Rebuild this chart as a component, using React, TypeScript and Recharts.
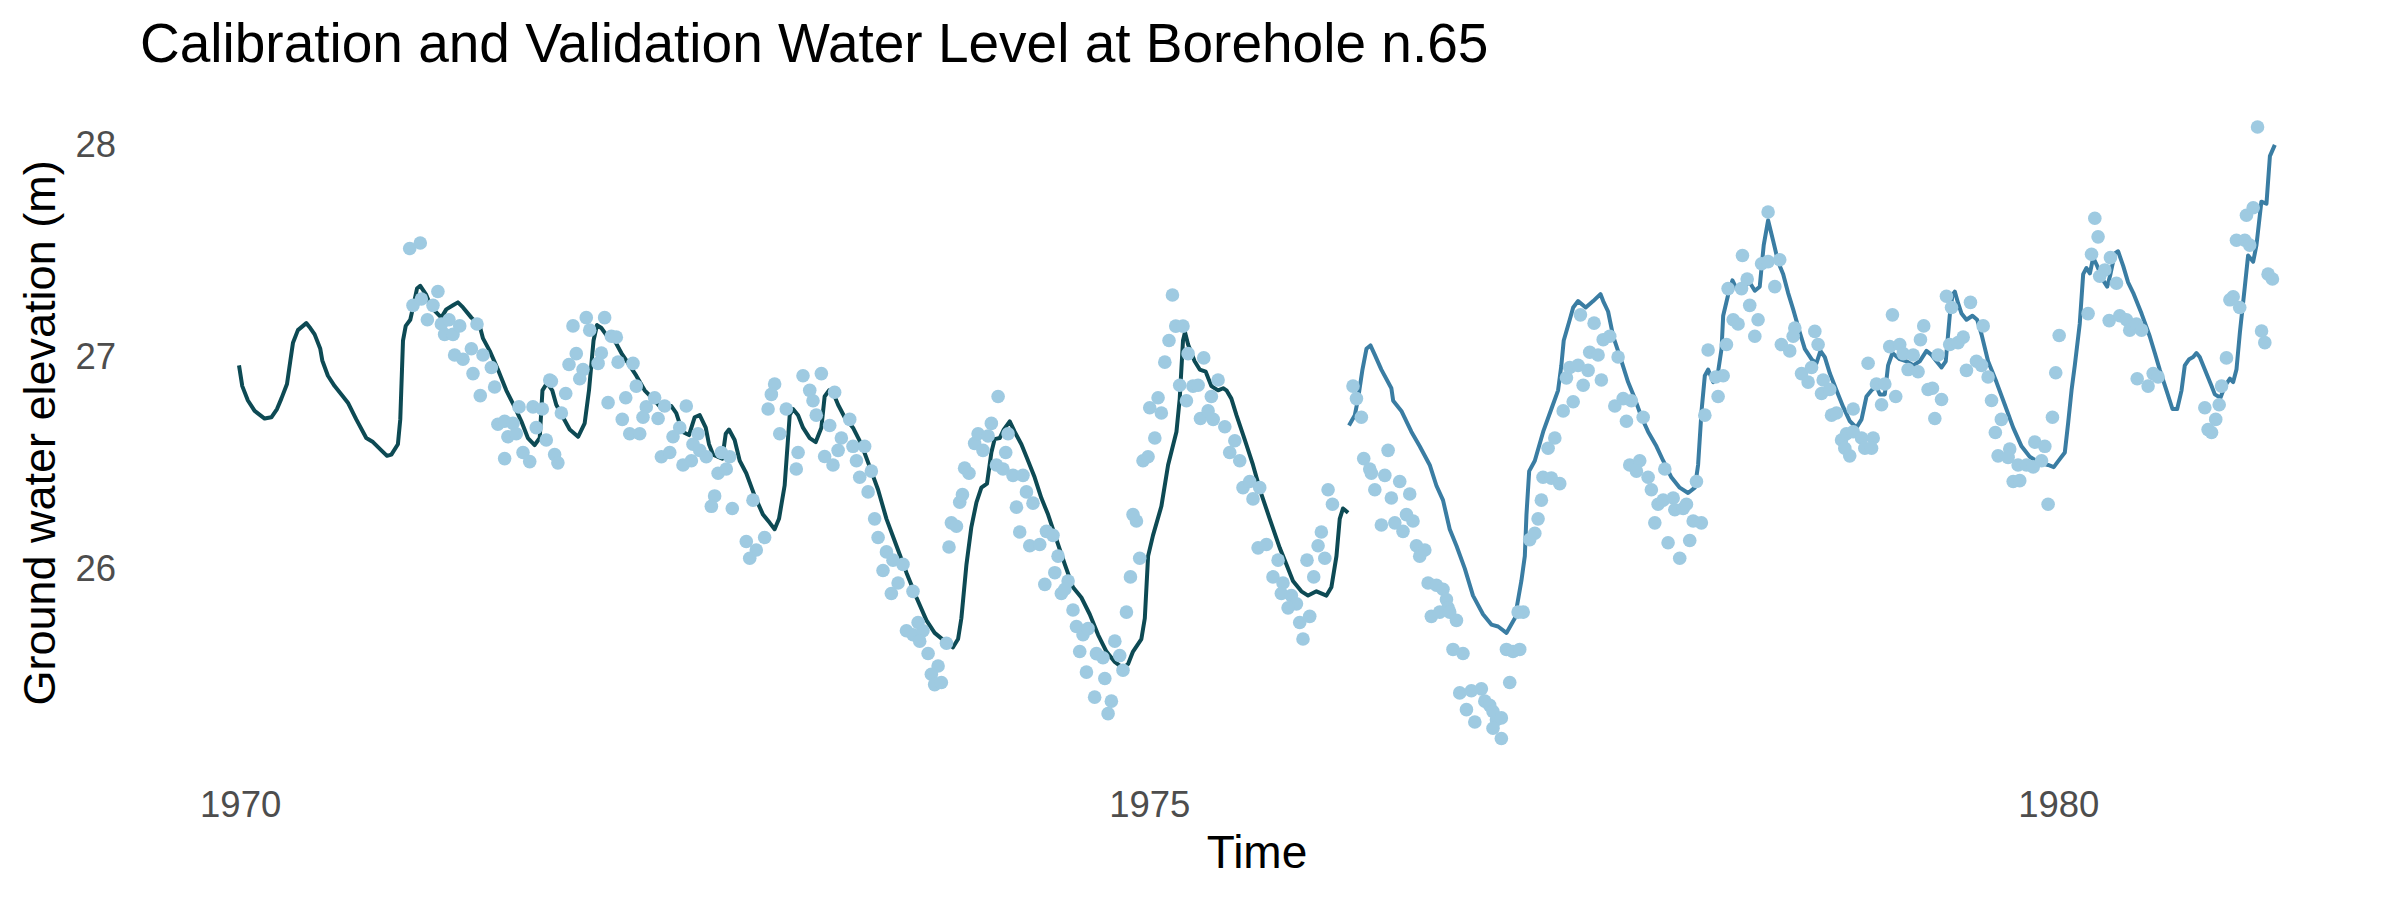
import { ComposedChart, Line, Scatter, XAxis, YAxis } from 'recharts';

// simulated level, calibration period
const calibrationTime = [
  1969.991, 1970.009, 1970.04, 1970.077, 1970.132, 1970.169, 1970.2, 1970.224, 1970.255, 1970.273,
  1970.288, 1970.315, 1970.343, 1970.361, 1970.383, 1970.407, 1970.438, 1970.449, 1970.48, 1970.517,
  1970.563, 1970.59, 1970.636, 1970.691, 1970.728, 1970.774, 1970.805, 1970.829, 1970.865, 1970.878,
  1970.893, 1970.908, 1970.933, 1970.948, 1970.97, 1970.988, 1971.021, 1971.049, 1971.104, 1971.131,
  1971.168, 1971.195, 1971.223, 1971.269, 1971.315, 1971.333, 1971.37, 1971.415, 1971.461, 1971.507,
  1971.544, 1971.58, 1971.617, 1971.645, 1971.66, 1971.685, 1971.714, 1971.736, 1971.773, 1971.81,
  1971.856, 1971.892, 1971.916, 1971.941, 1971.96, 1971.984, 1972.02, 1972.057, 1972.094, 1972.131,
  1972.176, 1972.222, 1972.277, 1972.323, 1972.369, 1972.396, 1972.429, 1972.466, 1972.497, 1972.525,
  1972.558, 1972.576, 1972.598, 1972.649, 1972.668, 1972.686, 1972.717, 1972.745, 1972.781, 1972.827,
  1972.873, 1972.91, 1972.937, 1972.961, 1972.992, 1973.02, 1973.038, 1973.066, 1973.093, 1973.13,
  1973.163, 1973.194, 1973.212, 1973.236, 1973.258, 1973.286, 1973.322, 1973.368, 1973.414, 1973.46,
  1973.506, 1973.552, 1973.607, 1973.662, 1973.717, 1973.772, 1973.817, 1973.872, 1973.918, 1973.946,
  1973.964, 1973.992, 1974.019, 1974.047, 1974.074, 1974.105, 1974.129, 1974.147, 1974.175, 1974.197,
  1974.23, 1974.257, 1974.294, 1974.322, 1974.367, 1974.404, 1974.441, 1974.487, 1974.533, 1974.578,
  1974.624, 1974.67, 1974.716, 1974.762, 1974.808, 1974.853, 1974.881, 1974.908, 1974.954, 1974.973,
  1974.991, 1975.018, 1975.064, 1975.101, 1975.147, 1975.165, 1975.183, 1975.194, 1975.211, 1975.247,
  1975.275, 1975.308, 1975.339, 1975.376, 1975.404, 1975.422, 1975.449, 1975.477, 1975.523, 1975.568,
  1975.587, 1975.614, 1975.66, 1975.715, 1975.752, 1975.788, 1975.834, 1975.871, 1975.917, 1975.972,
  1975.999, 1976.027, 1976.045, 1976.063, 1976.091,
];
const calibrationLevel = [
  26.956, 26.858, 26.79, 26.741, 26.705, 26.711, 26.75, 26.799, 26.868, 26.975,
  27.063, 27.122, 27.142, 27.155, 27.132, 27.102, 27.034, 26.979, 26.907, 26.858,
  26.809, 26.78, 26.701, 26.613, 26.594, 26.555, 26.529, 26.535, 26.584, 26.701,
  27.073, 27.142, 27.171, 27.229, 27.318, 27.331, 27.288, 27.229, 27.181, 27.22,
  27.239, 27.253, 27.229, 27.181, 27.142, 27.083, 27.024, 26.936, 26.838, 26.76,
  26.692, 26.613, 26.58, 26.613, 26.838, 26.872, 26.838, 26.77, 26.711, 26.653,
  26.619, 26.682, 26.838, 27.073, 27.146, 27.132, 27.089, 27.073, 27.014, 26.966,
  26.907, 26.838, 26.79, 26.745, 26.764, 26.731, 26.643, 26.627, 26.711, 26.721,
  26.662, 26.584, 26.535, 26.516, 26.633, 26.653, 26.604, 26.506, 26.447, 26.34,
  26.252, 26.213, 26.183, 26.232, 26.389, 26.721, 26.75, 26.721, 26.662, 26.613,
  26.594, 26.662, 26.809, 26.838, 26.829, 26.77, 26.711, 26.662, 26.584, 26.477,
  26.369, 26.232, 26.105, 25.978, 25.861, 25.753, 25.694, 25.655, 25.626, 25.665,
  25.763, 26.017, 26.193, 26.31, 26.379, 26.398, 26.545, 26.608, 26.613, 26.653,
  26.692, 26.643, 26.584, 26.525, 26.428, 26.33, 26.252, 26.134, 26.017, 25.909,
  25.861, 25.782, 25.685, 25.606, 25.557, 25.528, 25.547, 25.606, 25.665, 25.763,
  26.056, 26.154, 26.291, 26.486, 26.643, 26.799, 27.073, 27.112, 27.054, 26.975,
  26.936, 26.926, 26.858, 26.838, 26.848, 26.838, 26.799, 26.721, 26.604, 26.486,
  26.428, 26.349, 26.232, 26.095, 26.017, 25.939, 25.89, 25.87, 25.89, 25.87,
  25.909, 26.056, 26.232, 26.281, 26.261,
];

// simulated level, validation period
const validationTime = [
  1976.096, 1976.128, 1976.146, 1976.17, 1976.192, 1976.214, 1976.238, 1976.274, 1976.329, 1976.339,
  1976.384, 1976.439, 1976.485, 1976.54, 1976.577, 1976.613, 1976.65, 1976.687, 1976.733, 1976.778,
  1976.833, 1976.879, 1976.916, 1976.962, 1977.008, 1977.044, 1977.063, 1977.072, 1977.087, 1977.118,
  1977.164, 1977.209, 1977.246, 1977.264, 1977.277, 1977.31, 1977.329, 1977.356, 1977.398, 1977.439,
  1977.479, 1977.494, 1977.521, 1977.549, 1977.595, 1977.631, 1977.668, 1977.705, 1977.741, 1977.787,
  1977.824, 1977.869, 1977.915, 1977.961, 1977.998, 1978.016, 1978.035, 1978.053, 1978.071, 1978.099,
  1978.126, 1978.145, 1978.154, 1978.181, 1978.205, 1978.227, 1978.264, 1978.3, 1978.328, 1978.355,
  1978.377, 1978.401, 1978.429, 1978.456, 1978.484, 1978.511, 1978.539, 1978.575, 1978.603, 1978.64,
  1978.667, 1978.689, 1978.713, 1978.741, 1978.777, 1978.814, 1978.851, 1978.887, 1978.915, 1978.942,
  1978.97, 1978.997, 1979.015, 1979.043, 1979.061, 1979.085, 1979.125, 1979.162, 1979.199, 1979.235,
  1979.272, 1979.3, 1979.327, 1979.355, 1979.378, 1979.4, 1979.415, 1979.428, 1979.446, 1979.465,
  1979.492, 1979.525, 1979.551, 1979.575, 1979.611, 1979.657, 1979.703, 1979.749, 1979.795, 1979.84,
  1979.895, 1979.941, 1979.972, 1980.002, 1980.033, 1980.051, 1980.07, 1980.088, 1980.115, 1980.134,
  1980.152, 1980.171, 1980.189, 1980.211, 1980.244, 1980.266, 1980.284, 1980.308, 1980.326, 1980.354,
  1980.381, 1980.409, 1980.455, 1980.5, 1980.528, 1980.555, 1980.592, 1980.625, 1980.651, 1980.675,
  1980.693, 1980.717, 1980.739, 1980.757, 1980.775, 1980.803, 1980.84, 1980.858, 1980.889, 1980.913,
  1980.941, 1980.959, 1980.977, 1980.996, 1981.023, 1981.041, 1981.069, 1981.087, 1981.114, 1981.142,
  1981.161, 1981.188,
];
const validationLevel = [
  26.672, 26.721, 26.799, 26.936, 27.034, 27.05, 27.005, 26.936, 26.848, 26.789,
  26.741, 26.643, 26.574, 26.486, 26.388, 26.32, 26.183, 26.105, 25.997, 25.87,
  25.782, 25.733, 25.724, 25.694, 25.763, 25.939, 26.056, 26.252, 26.457, 26.506,
  26.643, 26.75, 26.838, 26.956, 27.073, 27.171, 27.229, 27.259, 27.229, 27.259,
  27.292, 27.259, 27.21, 27.093, 26.975, 26.877, 26.799, 26.711, 26.643, 26.574,
  26.506, 26.428, 26.379, 26.354, 26.379, 26.486, 26.741, 26.907, 26.936, 26.877,
  26.926, 27.034, 27.19, 27.288, 27.357, 27.318, 27.327, 27.347, 27.308, 27.327,
  27.523, 27.64, 27.543, 27.445, 27.386, 27.298, 27.22, 27.112, 27.034, 26.985,
  26.966, 27.024, 26.995, 26.917, 26.838, 26.76, 26.692, 26.662, 26.701, 26.809,
  26.838, 26.858, 26.819, 26.819, 26.956, 27.014, 26.985, 26.975, 26.956, 26.975,
  27.024, 27.005, 26.975, 26.946, 26.975, 27.19, 27.288, 27.304, 27.249, 27.2,
  27.171, 27.19, 27.171, 27.102, 26.975, 26.877, 26.77, 26.662, 26.574, 26.525,
  26.496, 26.486, 26.476, 26.51, 26.545, 26.682, 26.838, 26.956, 27.151, 27.386,
  27.415, 27.39, 27.464, 27.425, 27.357, 27.327, 27.386, 27.484, 27.494, 27.425,
  27.347, 27.298, 27.2, 27.093, 27.014, 26.936, 26.838, 26.75, 26.75, 26.838,
  26.956, 26.985, 26.995, 27.014, 26.995, 26.936, 26.858, 26.819, 26.803, 26.858,
  26.893, 26.877, 26.936, 27.112, 27.327, 27.474, 27.445, 27.523, 27.728, 27.718,
  27.943, 27.996,
];

// observed water level
const observedTime = [
  1970.93, 1970.988, 1971.085, 1970.948, 1970.994, 1971.027, 1971.058, 1971.104, 1971.146, 1971.122,
  1971.168, 1971.205, 1971.3, 1971.177, 1971.223, 1971.269, 1971.333, 1971.379, 1971.278, 1971.397,
  1971.318, 1971.531, 1971.608, 1971.659, 1971.415, 1971.452, 1971.498, 1971.47, 1971.516, 1971.626,
  1971.553, 1971.59, 1971.452, 1971.681, 1971.7,
  1971.727, 1971.745, 1971.709, 1971.764, 1971.788, 1971.828, 1971.901, 1972.002, 1971.92, 1971.846,
  1971.806, 1971.883, 1971.865, 1971.984, 1971.966, 1972.076, 1972.158, 1972.039, 1972.066, 1972.176,
  1972.021, 1972.118, 1972.099, 1972.14, 1972.195, 1972.231, 1972.277, 1972.213, 1972.296, 1972.332,
  1972.451, 1972.314, 1972.36, 1972.378, 1972.415, 1972.433, 1972.479, 1972.488, 1972.516, 1972.525,
  1972.561, 1972.644, 1972.69, 1972.626, 1972.671, 1972.607, 1972.589, 1972.704, 1972.818, 1972.781,
  1972.836, 1972.8, 1972.882, 1972.937, 1972.919, 1972.901, 1972.965, 1973.001, 1973.093, 1973.13,
  1973.194, 1973.148, 1973.166, 1973.066, 1973.056, 1973.24, 1973.212, 1973.258, 1973.267, 1973.304,
  1973.286, 1973.35, 1973.368, 1973.432, 1973.387, 1973.405, 1973.469, 1973.451, 1973.487, 1973.506,
  1973.552, 1973.533, 1973.588, 1973.643, 1973.616, 1973.579, 1973.698, 1973.662, 1973.698, 1973.726,
  1973.753, 1973.735, 1973.781, 1973.836, 1973.799, 1973.817, 1973.854, 1973.882, 1973.896, 1973.909,
  1973.937, 1973.955, 1973.97, 1973.982, 1974.006, 1974.037, 1974.056, 1974.083, 1974.111, 1974.129,
  1974.166, 1974.157, 1974.193, 1974.208, 1974.221, 1974.248, 1974.303, 1974.267, 1974.285, 1974.322,
  1974.358, 1974.34, 1974.395, 1974.432, 1974.468, 1974.496, 1974.423, 1974.478, 1974.514, 1974.551,
  1974.533, 1974.578, 1974.597, 1974.633, 1974.661, 1974.615, 1974.652, 1974.697, 1974.707, 1974.743,
  1974.753, 1974.789, 1974.771, 1974.808, 1974.835, 1974.853, 1974.872, 1974.894, 1974.908, 1974.927,
  1974.945, 1974.963, 1974.991, 1975.028, 1975.0, 1975.046, 1975.064, 1975.083, 1975.106, 1975.125,
  1975.143, 1975.183, 1975.165, 1975.202, 1975.211, 1975.238, 1975.266, 1975.279, 1975.297, 1975.321,
  1975.339, 1975.349, 1975.376,
  1975.413, 1975.468, 1975.44, 1975.495, 1975.513, 1975.55, 1975.605, 1975.568, 1975.596, 1975.642,
  1975.706, 1975.678, 1975.733, 1975.724, 1975.779, 1975.807, 1975.761, 1975.825, 1975.88, 1975.843,
  1975.865, 1975.902, 1975.926, 1975.963, 1975.944, 1975.981, 1976.005, 1976.118, 1976.137, 1976.164,
  1976.177, 1976.21, 1976.219, 1976.238, 1976.274, 1976.311, 1976.293, 1976.329, 1976.375, 1976.43,
  1976.348, 1976.393, 1976.412, 1976.448, 1976.467, 1976.485, 1976.513, 1976.531, 1976.577, 1976.613,
  1976.632, 1976.641, 1976.549, 1976.595, 1976.65, 1976.687, 1976.668, 1976.723, 1976.705, 1976.769,
  1976.824, 1976.742, 1976.788, 1976.843, 1976.87, 1976.888, 1976.907, 1976.934, 1976.888, 1976.934,
  1976.962, 1976.998, 1977.035, 1976.98, 1977.026, 1977.054, 1977.09, 1977.118, 1977.136, 1977.154,
  1977.163, 1977.209, 1977.255, 1977.191, 1977.228,
  1977.274, 1977.329, 1977.292, 1977.31, 1977.356, 1977.384, 1977.411, 1977.369, 1977.42, 1977.466,
  1977.444, 1977.484, 1977.494, 1977.53, 1977.576, 1977.558, 1977.604, 1977.649, 1977.622, 1977.714,
  1977.64, 1977.695, 1977.677, 1977.741, 1977.759, 1977.796, 1977.824, 1977.778, 1977.833, 1977.879,
  1977.888, 1977.934, 1977.952, 1977.989, 1978.034, 1977.851, 1977.915, 1977.97, 1978.007, 1978.053,
  1978.071, 1978.113, 1978.154, 1978.126, 1978.172, 1978.181, 1978.209, 1978.236, 1978.26, 1978.255,
  1978.286, 1978.3, 1978.328, 1978.346, 1978.365, 1978.401, 1978.465, 1978.401, 1978.438, 1978.474,
  1978.52, 1978.548, 1978.539, 1978.585, 1978.621, 1978.64, 1978.658, 1978.676, 1978.704, 1978.695,
  1978.74, 1978.75, 1978.777, 1978.805, 1978.823, 1978.85, 1978.832, 1978.869, 1978.869, 1978.915,
  1978.933, 1978.979, 1978.97, 1978.951, 1978.997, 1979.043, 1979.025, 1979.103, 1979.07, 1979.085,
  1979.125, 1979.144, 1979.171, 1979.199, 1979.226, 1979.239, 1979.257, 1979.281, 1979.305, 1979.318,
  1979.355, 1979.336, 1979.382, 1979.41, 1979.4, 1979.446, 1979.474, 1979.492, 1979.514, 1979.547,
  1979.584, 1979.575, 1979.611, 1979.63, 1979.651, 1979.684, 1979.666, 1979.721, 1979.73, 1979.749,
  1979.785, 1979.776, 1979.822, 1979.859, 1979.868, 1979.923, 1979.905, 1979.941, 1979.965, 1979.983,
  1980.002, 1980.161, 1980.18, 1980.198, 1980.216, 1980.225, 1980.253, 1980.284, 1980.317, 1980.277,
  1980.335, 1980.372, 1980.39, 1980.427, 1980.455, 1980.431, 1980.491, 1980.519, 1980.546, 1980.803,
  1980.821, 1980.84, 1980.863, 1980.882, 1980.895, 1980.922, 1980.941, 1980.959, 1980.995, 1980.977,
  1981.023, 1981.05, 1981.032, 1981.069, 1981.093, 1981.115, 1981.133, 1981.151, 1981.175,
];
const observedLevel = [
  27.507, 27.533, 27.304, 27.239, 27.269, 27.171, 27.239, 27.151, 27.171, 27.102,
  27.102, 27.142, 27.151, 27.005, 26.985, 27.034, 27.005, 26.946, 26.917, 26.854,
  26.813, 26.76, 26.76, 26.75, 26.678, 26.692, 26.682, 26.619, 26.633, 26.662,
  26.545, 26.502, 26.516, 26.604, 26.887,
  26.535, 26.496, 26.881, 26.731, 26.823, 27.142, 27.181, 27.181, 27.122, 27.011,
  26.96, 26.936, 26.893, 27.014, 26.965, 26.971, 26.965, 27.093, 27.089, 26.858,
  26.78, 26.803, 26.701, 26.633, 26.633, 26.76, 26.803, 26.711, 26.705, 26.764,
  26.764, 26.525, 26.545, 26.619, 26.662, 26.486, 26.506, 26.584, 26.633, 26.555,
  26.525, 26.545, 26.525, 26.447, 26.467, 26.34, 26.291, 26.281, 26.32, 26.125,
  26.085, 26.046, 26.144, 26.868, 26.819, 26.75, 26.633, 26.75, 26.907, 26.838,
  26.917, 26.789, 26.721, 26.545, 26.467, 26.672, 26.526, 26.486, 26.829, 26.613,
  26.555, 26.701, 26.574, 26.574, 26.506, 26.428, 26.457, 26.359, 26.232, 26.144,
  26.076, 25.988, 26.037, 26.017, 25.929, 25.88, 25.89, 25.704, 25.685, 25.743,
  25.704, 25.655, 25.597, 25.538, 25.499, 25.45, 25.46, 25.645, 26.099, 26.213,
  26.197, 26.31, 26.346, 26.471, 26.447, 26.588, 26.633, 26.555, 26.623, 26.682,
  26.809, 26.486, 26.467, 26.545, 26.633, 26.437, 26.437, 26.287, 26.17, 26.359,
  26.306, 26.105, 26.111, 26.173, 26.154, 26.056, 25.923, 25.978, 25.88, 25.939,
  25.9, 25.802, 25.724, 25.685, 25.714, 25.606, 25.509, 25.391, 25.596, 25.577,
  25.479, 25.372, 25.313, 25.655, 25.587, 25.518, 25.792, 25.958, 26.252, 26.222,
  26.046, 26.506, 26.525, 26.613, 26.756, 26.803, 26.731, 26.971, 27.073, 27.288,
  27.141, 27.141, 26.862, 26.789, 27.011, 26.858, 26.862, 26.705, 26.991, 26.741,
  26.809, 26.701, 26.887,
  26.666, 26.6, 26.545, 26.506, 26.379, 26.408, 26.379, 26.326, 26.095, 26.111,
  26.037, 25.958, 25.929, 25.88, 25.87, 25.831, 25.812, 25.743, 25.772, 25.665,
  26.037, 25.958, 26.105, 26.046, 26.17, 26.369, 26.301, 26.858, 26.799, 26.711,
  26.516, 26.467, 26.447, 26.369, 26.203, 26.555, 26.437, 26.33, 26.408, 26.349,
  26.213, 26.173, 26.252, 26.222, 26.105, 26.056, 26.085, 25.929, 25.919, 25.9,
  25.851, 25.812, 25.772, 25.792, 25.792, 25.753, 25.616, 25.597, 25.411, 25.421,
  25.43, 25.332, 25.274, 25.372, 25.352, 25.323, 25.284, 25.293, 25.244, 25.196,
  25.616, 25.606, 25.616, 25.46, 25.792, 25.792, 26.134, 26.164, 26.232, 26.32,
  26.428, 26.424, 26.398, 26.565, 26.613,
  26.741, 26.784, 26.897, 26.946, 26.956, 26.862, 26.932, 27.194, 27.018, 27.005,
  27.155, 26.887, 27.077, 27.093, 26.995, 26.764, 26.799, 26.789, 26.692, 26.711,
  26.486, 26.506, 26.457, 26.428, 26.369, 26.301, 26.32, 26.213, 26.467, 26.33,
  26.275, 26.281, 26.301, 26.222, 26.213, 26.119, 26.046, 26.13, 26.408, 26.721,
  27.028, 26.901, 26.907, 26.809, 27.054, 27.318, 27.171, 27.151, 27.474, 27.318,
  27.363, 27.239, 27.093, 27.171, 27.435, 27.445, 27.454, 27.679, 27.327, 27.054,
  27.024, 27.132, 27.093, 26.917, 26.877, 26.946, 27.116, 27.054, 26.887, 26.823,
  26.842, 26.721, 26.731, 26.604, 26.565, 26.529, 26.633, 26.643, 26.75, 26.613,
  26.565, 26.613, 26.565, 26.966, 26.868, 26.868, 26.77, 26.809, 27.044, 27.194,
  27.054, 27.011, 26.936, 27.005, 26.926, 27.077, 27.142, 26.842, 26.848, 26.705,
  26.795, 27.005, 27.282, 27.229, 27.054, 27.063, 27.089, 26.932, 27.253, 26.975,
  27.142, 26.956, 26.901, 26.79, 26.639, 26.701, 26.529, 26.522, 26.561, 26.408,
  26.412, 26.486, 26.486, 26.477, 26.594, 26.574, 26.506, 26.301, 26.711, 26.921,
  27.097, 27.2, 27.48, 27.65, 27.562, 27.376, 27.406, 27.464, 27.343, 27.167,
  27.19, 27.171, 27.122, 27.151, 27.122, 26.893, 26.858, 26.917, 26.901, 26.756,
  26.653, 26.639, 26.701, 26.77, 26.858, 26.991, 27.265, 27.279, 27.229, 27.546,
  27.546, 27.523, 27.664, 27.699, 28.08, 27.118, 27.063, 27.386, 27.363,
];

const yearTicks = [1970, 1975, 1980];
const levelTicks = [26, 27, 28];

const calibration = calibrationTime.map((t, i) => ({ time: t, level: calibrationLevel[i] }));
const validation = validationTime.map((t, i) => ({ time: t, level: validationLevel[i] }));
const observed = observedTime.map((t, i) => ({ time: t, level: observedLevel[i] }));

const FONT = '"Liberation Sans", Arial, Helvetica, sans-serif';

const XTick = (props: any) => (
  <text x={props.x} y={props.y + 48} textAnchor="middle" fontSize={36.5} fill="#4D4D4D" fontFamily={FONT}>
    {props.payload.value}
  </text>
);

const YTick = (props: any) => (
  <text x={props.x - 21} y={props.y + 13} textAnchor="end" fontSize={36.5} fill="#4D4D4D" fontFamily={FONT}>
    {props.payload.value}
  </text>
);

const ObsDot = (props: any) => <circle cx={props.cx} cy={props.cy} r={6.8} fill="#9ECAE1" />;

const App = () => {
  return (
    <div style={{ position: 'absolute', left: 0, top: 0, width: 2400, height: 900, background: '#fff' }}>
      <ComposedChart
        width={2400}
        height={900}
        margin={{ top: 96.5, right: 23, bottom: 0, left: 0 }}
      >
        <XAxis
          type="number"
          dataKey="time"
          domain={[1969.43, 1981.75]}
          ticks={yearTicks}
          interval={0}
          allowDataOverflow
          axisLine={false}
          tickLine={false}
          tickSize={0}
          tickMargin={0}
          height={131}
          tick={XTick}
        />
        <YAxis
          type="number"
          dataKey="level"
          domain={[25.052, 28.224]}
          ticks={levelTicks}
          interval={0}
          allowDataOverflow
          axisLine={false}
          tickLine={false}
          tickSize={0}
          tickMargin={0}
          width={137}
          tick={YTick}
        />
        <Scatter data={observed} dataKey="level" shape={ObsDot} isAnimationActive={false} />
        <Line
          data={calibration}
          dataKey="level"
          type="linear"
          stroke="#0D4A54"
          strokeWidth={4}
          strokeLinejoin="round"
          dot={false}
          activeDot={false}
          isAnimationActive={false}
        />
        <Line
          data={validation}
          dataKey="level"
          type="linear"
          stroke="#3A7DA3"
          strokeWidth={4}
          strokeLinejoin="round"
          dot={false}
          activeDot={false}
          isAnimationActive={false}
        />
      </ComposedChart>
      <svg
        width={2400}
        height={900}
        style={{ position: 'absolute', left: 0, top: 0, pointerEvents: 'none' }}
        fontFamily={FONT}
      >
        <text x={140} y={62} fontSize={55} fill="#000">
          Calibration and Validation Water Level at Borehole n.65
        </text>
        <text x={1257} y={868} textAnchor="middle" fontSize={46} fill="#000">
          Time
        </text>
        <text transform="translate(55,433) rotate(-90)" textAnchor="middle" fontSize={45} fill="#000">
          Ground water elevation (m)
        </text>
      </svg>
    </div>
  );
};

export default App;
